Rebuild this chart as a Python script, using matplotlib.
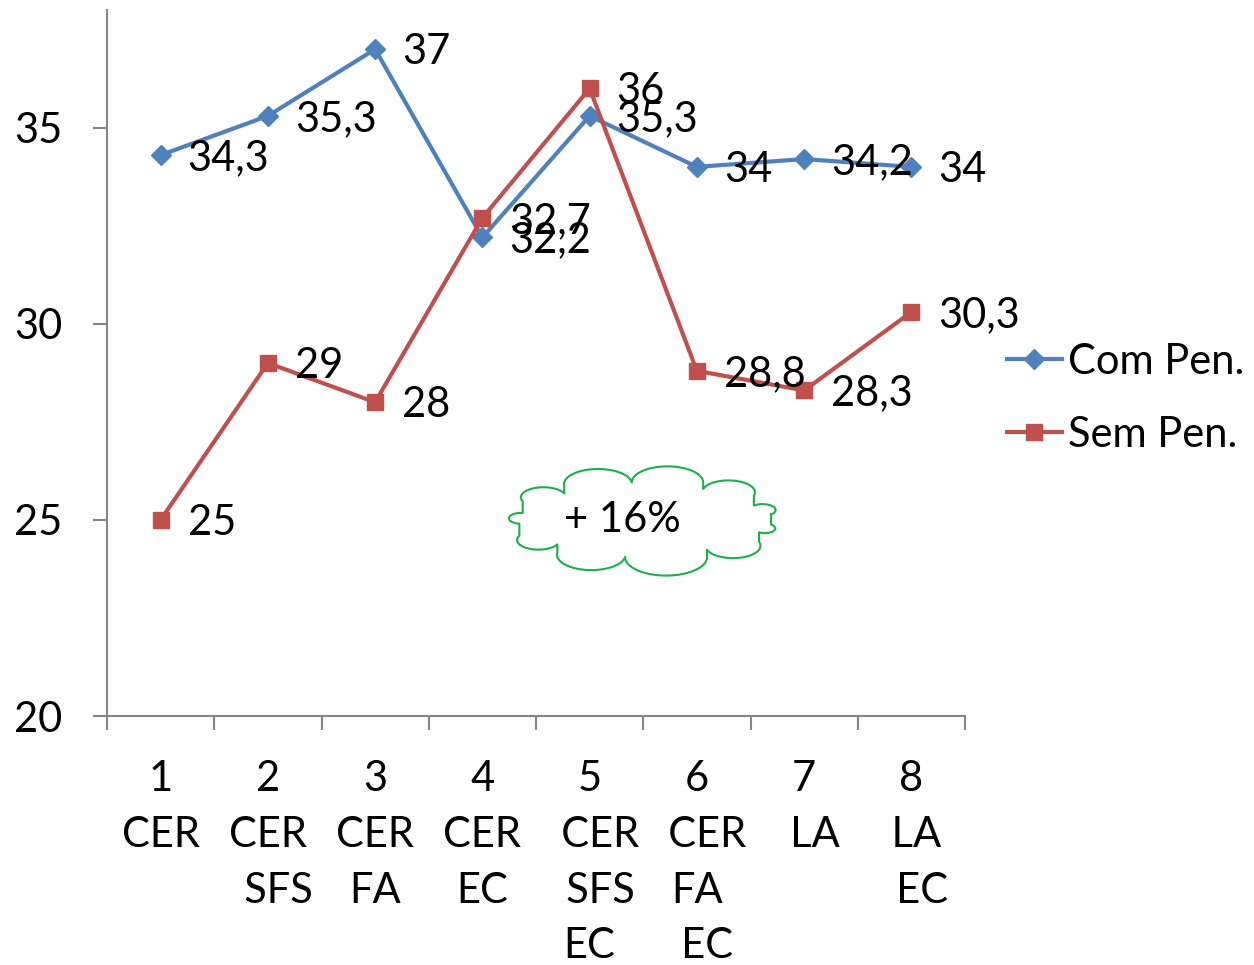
import numpy as np
import matplotlib
matplotlib.use("Agg")
import matplotlib.pyplot as plt
from matplotlib.lines import Line2D

plt.rcParams["font.family"] = ["Lato", "DejaVu Sans"]

positions = [1, 2, 3, 4, 5, 6, 7, 8]
x_labels = ["1\nCER", "2\nCER\n  SFS", "3\nCER\nFA", "4\nCER\nEC",
            "5\n  CER\n  SFS\nEC", "6\n  CER\nFA\n  EC", "7\n  LA", "8\n LA\n  EC"]
com_pen = [34.3, 35.3, 37, 32.2, 35.3, 34, 34.2, 34]
sem_pen = [25, 29, 28, 32.7, 36, 28.8, 28.3, 30.3]
series_names = ["Com Pen.", "Sem Pen."]
y_ticks = [20, 25, 30, 35]
note = "+ 16%"

blue = "#4F81BD"
red = "#C0504D"
green = "#1DB04A"
gray = "#868686"
fs = 30


def fmt(v):
    s = ("%g" % v)
    return s.replace(".", ",")


fig = plt.figure(figsize=(12.54, 9.65), dpi=100)
ax = fig.add_axes([107 / 1254, 1 - 716 / 965, 858 / 1254, 706 / 965])

ax.plot(positions, com_pen, color=blue, lw=3, marker="D", ms=10, mec=blue, mfc=blue, label=series_names[0])
ax.plot(positions, sem_pen, color=red, lw=3, marker="s", ms=11, mec=red, mfc=red, label=series_names[1])

for xs, ys in [(positions, com_pen), (positions, sem_pen)]:
    for x, y in zip(xs, ys):
        ax.annotate(fmt(y), (x, y), xytext=(27, -3), textcoords="offset pixels",
                    ha="left", va="center", fontsize=fs, color="black")

ax.set_xlim(0.5, 8.5)
ax.set_ylim(20, 38)
ax.set_yticks(y_ticks)
ax.set_xticks(positions)
ax.set_xticklabels(x_labels, linespacing=1.57)
ax.set_xticks(np.arange(0.5, 9, 1), minor=True)
ax.tick_params(axis="x", which="major", length=0, pad=32, labelsize=fs)
ax.tick_params(axis="x", which="minor", length=10, width=1.5, color=gray, direction="out")
ax.tick_params(axis="y", length=10, width=1.5, color=gray, pad=22, labelsize=fs)

for s in ["top", "right"]:
    ax.spines[s].set_visible(False)
for s in ["left", "bottom"]:
    ax.spines[s].set_color(gray)
    ax.spines[s].set_linewidth(1.5)

ax.legend(loc="center left", bbox_to_anchor=(1.03, 0.45), frameon=False,
          fontsize=fs, handlelength=1.3, handletextpad=0.15, labelspacing=0.85,
          borderaxespad=0)

# cloud callout (drawn in figure pixel space)
cx, cy, rx, ry = 643, 520, 128, 40
angles = np.array([0, 30, 62, 95, 128, 160, 195, 228, 262, 300, 335]) * np.pi / 180
pts = np.column_stack([cx + rx * np.cos(angles), cy - ry * np.sin(angles)])
pts_y_up = np.column_stack([pts[:, 0], 965 - pts[:, 1]])
path_x, path_y = [], []
n = len(pts_y_up)
for i in range(n):
    p1 = pts_y_up[i]
    p2 = pts_y_up[(i + 1) % n]
    m = (p1 + p2) / 2
    r = np.linalg.norm(p2 - p1) / 2
    a1 = np.arctan2(p1[1] - m[1], p1[0] - m[0])
    t = np.linspace(a1, a1 + np.pi, 30)
    path_x.extend(m[0] + r * np.cos(t))
    path_y.extend(m[1] + r * 0.45 * np.sin(t))
path_x.append(path_x[0])
path_y.append(path_y[0])
fig.add_artist(Line2D(np.array(path_x) / 1254, np.array(path_y) / 965,
                      transform=fig.transFigure, color=green, lw=1.5))
fig.text(622 / 1254, 1 - 520 / 965, note, fontsize=fs, ha="center", va="center")

fig.savefig("out.png", dpi=100)
